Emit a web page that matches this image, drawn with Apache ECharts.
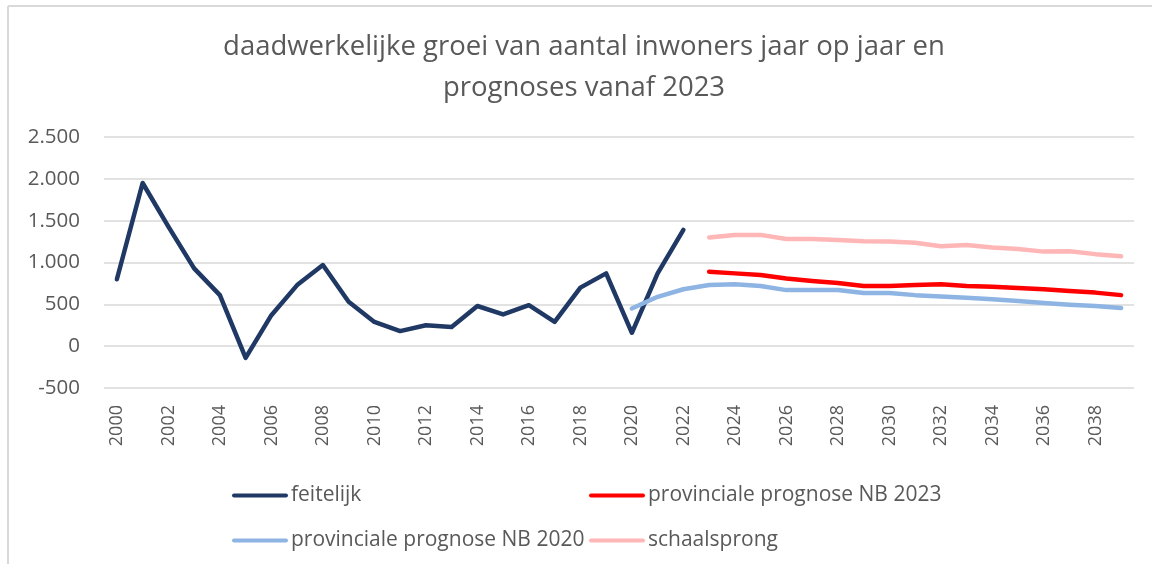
<!DOCTYPE html>
<html><head><meta charset="utf-8">
<script src="https://cdn.jsdelivr.net/npm/echarts@6/dist/echarts.min.js"></script>
<style>html,body{margin:0;padding:0;background:#fff}#c{width:1152px;height:564px}</style>
</head><body><div id="c"></div>
<script>
const years = [];
for (let y = 2000; y <= 2039; y++) years.push(String(y));
const feitelijk = [800,1950,1430,930,610,-140,370,730,970,530,290,180,250,230,480,380,490,290,700,870,160,870,1390,
  null,null,null,null,null,null,null,null,null,null,null,null,null,null,null,null,null];
const nb2023 = [null,null,null,null,null,null,null,null,null,null,null,null,null,null,null,null,null,null,null,null,null,null,null,
  890,870,850,810,780,755,720,720,730,740,720,710,695,680,660,640,610];
const nb2020 = [null,null,null,null,null,null,null,null,null,null,null,null,null,null,null,null,null,null,null,null,
  450,590,680,730,740,720,670,670,670,635,635,610,595,578,560,540,515,495,480,455];
const schaalsprong = [null,null,null,null,null,null,null,null,null,null,null,null,null,null,null,null,null,null,null,null,null,null,null,
  1300,1330,1330,1280,1280,1270,1255,1250,1235,1195,1210,1180,1160,1130,1135,1100,1075];
const yTicks = {min:-500, max:2500, interval:500};
const names = ['feitelijk','provinciale prognose NB 2023','provinciale prognose NB 2020','schaalsprong'];
const colors = ['#1f3864','#ff0000','#8eb4e3','#ffb6b6'];

const FONT = 'Open Sans';
const TXT = '#595959';
const chart = echarts.init(document.getElementById('c'), null, {renderer:'canvas'});
function fmt(v){ const s = Math.abs(v).toString(); const t = s.replace(/\B(?=(\d{3})+(?!\d))/g,'.'); return (v<0?'-':'')+t; }
const iconPath = 'path://M2,0 L54,0 A2,2 0 0 1 54,4 L2,4 A2,2 0 0 1 2,0 Z';
function legendAt(name, left, top){
  return {data:[{name:name, icon:iconPath}], left:left, top:top, itemWidth:56, itemHeight:5, itemGap:0,
    textStyle:{fontFamily:FONT, fontSize:21, color:TXT, padding:[0,0,0,-2]}};
}
const series = [feitelijk, nb2023, nb2020, schaalsprong].map((d,i)=>({
  name:names[i], type:'line', data:d, symbol:'none', connectNulls:false,
  lineStyle:{width:4.5, color:colors[i], cap:'round', join:'round'}, itemStyle:{color:colors[i]}
}));
chart.setOption({
  animation:false,
  backgroundColor:'#fff',
  title:{text:'daadwerkelijke groei van aantal inwoners jaar op jaar en\nprognoses vanaf 2023', left:579, textAlign:'center', top:22,
    textStyle:{fontFamily:FONT, fontSize:27.5, fontWeight:'normal', color:TXT, lineHeight:41}},
  legend:[legendAt(names[0],227,480), legendAt(names[1],584,480), legendAt(names[2],227,525), legendAt(names[3],584,525)],
  grid:{left:104, right:18, top:137, bottom:176, containLabel:false},
  xAxis:{type:'category', data:years, boundaryGap:true,
    axisLine:{show:false}, axisTick:{show:false},
    axisLabel:{interval:1, rotate:90, margin:17, fontFamily:FONT, fontSize:18, color:TXT}},
  yAxis:{type:'value', min:yTicks.min, max:yTicks.max, interval:yTicks.interval,
    axisLine:{show:false}, axisTick:{show:false},
    axisLabel:{formatter:fmt, margin:24, fontFamily:FONT, fontSize:20.5, color:TXT},
    splitLine:{lineStyle:{color:'#d9d9d9', width:1.5}}},
  graphic:[
    {type:'line', shape:{x1:8, y1:6, x2:1152, y2:6}, style:{stroke:'#d9d9d9', lineWidth:2}},
    {type:'line', shape:{x1:8, y1:6, x2:8, y2:564}, style:{stroke:'#d9d9d9', lineWidth:2}}
  ],
  series:series
});
</script></body></html>
